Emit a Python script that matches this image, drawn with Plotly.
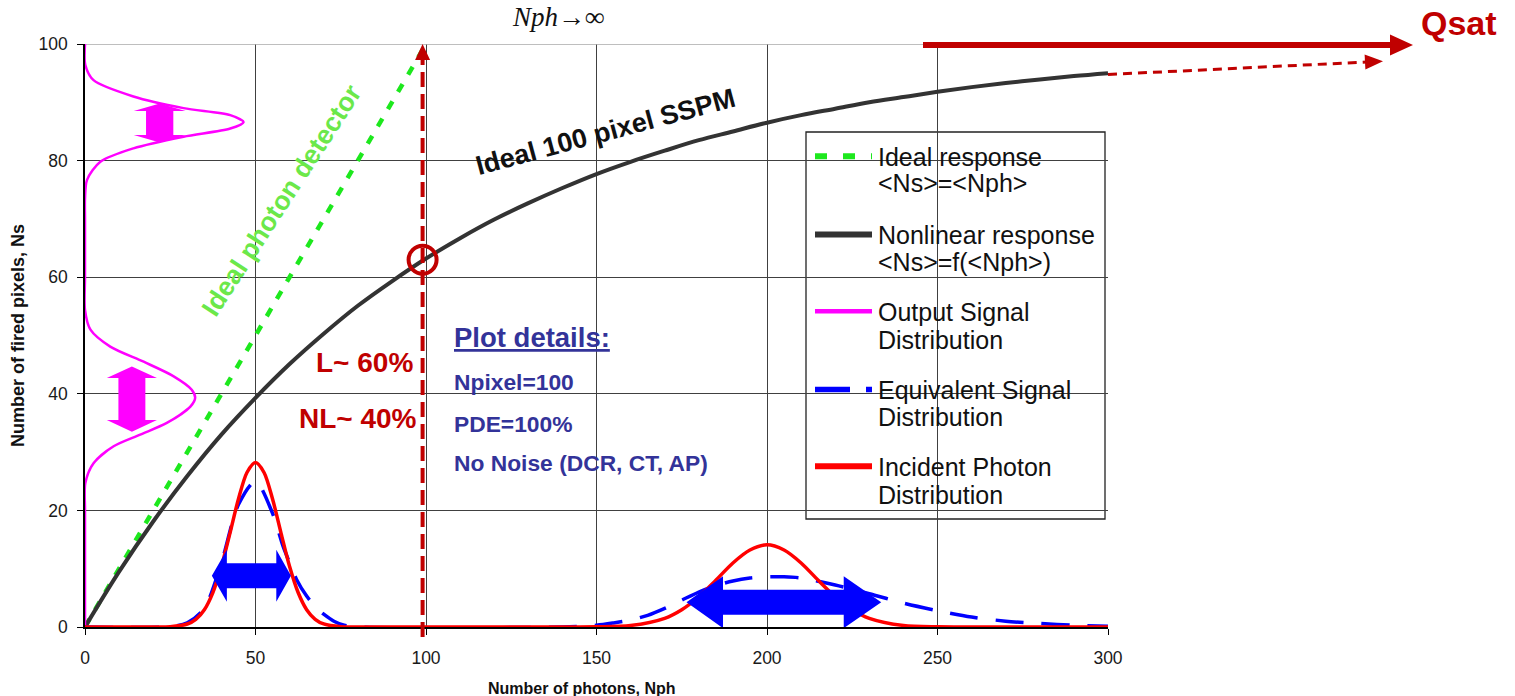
import plotly.graph_objects as go

# ---------------- data ----------------
nph_ticks = [0, 50, 100, 150, 200, 250, 300]
ns_ticks = [0, 20, 40, 60, 80, 100]

# ideal (linear) photon detector response
ideal_nph = [0, 100]
ideal_ns = [0, 100]

# nonlinear response of a 100-pixel SSPM
nonlinear_nph = [0, 10, 20, 30, 40, 50, 60, 70, 80, 90, 100, 110, 120, 130, 140, 150,
                 160, 170, 180, 190, 200, 210, 220, 230, 240, 250, 260, 270, 280, 290, 300]
nonlinear_ns = [0, 9.5, 18.1, 25.9, 33.0, 39.3, 45.1, 50.3, 55.1, 59.3, 63.2, 66.7, 69.9,
                72.7, 75.3, 77.7, 79.8, 81.7, 83.5, 85.0, 86.5, 87.8, 88.9, 90.0, 90.9,
                91.8, 92.6, 93.3, 93.9, 94.5, 95.0]

# incident photon distribution (two light pulses)
incident_nph = [0, 20, 25, 30, 32.5, 35, 37.5, 40, 42.5, 45, 47.5, 50, 52.5, 55, 57.5, 60,
                62.5, 65, 67.5, 70, 75, 80, 140, 150, 160, 170, 175, 180, 185, 190, 195,
                200, 205, 210, 215, 220, 225, 230, 240, 250, 260, 300]
incident_val = [0, 0, 0.05, 0.52, 1.32, 2.97, 5.91, 10.37, 16.07, 21.96, 26.5, 28.2, 26.5,
                21.96, 16.07, 10.37, 5.91, 2.97, 1.32, 0.52, 0.05, 0, 0, 0.03, 0.26, 1.49,
                2.96, 5.19, 8.03, 10.98, 13.2, 14.1, 13.2, 10.98, 8.03, 5.19, 2.96, 1.49,
                0.26, 0.03, 0, 0]

# equivalent signal distribution
equiv_nph = [0, 25, 30, 35, 40, 45, 50, 55, 58, 60, 62, 65, 68, 70, 73, 76, 80, 140, 150,
             155, 160, 165, 170, 175, 180, 185, 190, 195, 200, 205, 210, 220, 230, 240,
             250, 260, 270, 280, 290, 300]
equiv_val = [0, 0.05, 0.7, 3.2, 11, 21, 25, 19.5, 14, 11, 8.2, 5.3, 3.2, 2.2, 1.0, 0.3, 0,
             0, 0.3, 0.7, 1.2, 2.0, 3.2, 4.6, 6.0, 7.1, 7.9, 8.4, 8.6, 8.6, 8.4, 7.2, 5.7,
             4.1, 2.8, 1.7, 1.0, 0.6, 0.3, 0.15]

# output signal distribution, drawn along the Ns axis
output_ns = [0, 20, 24.7, 28.1, 31.0, 33.0, 35.0, 37.8, 39.3, 40.7, 43.0, 45.5, 48.1, 51.0,
             54.4, 60, 70, 73.5, 76.7, 79.8, 82.1, 84.1, 85.5, 86.6, 87.8, 89.0, 91.0,
             93.8, 96.4, 100]
output_val = [0, 0, 0.1, 2.5, 8.4, 16.2, 24.0, 30.9, 32.3, 31.3, 26.0, 17.2, 7.4, 1.6, 0,
              0, 0, 0, 0.6, 4.5, 14.2, 28.9, 42.6, 46.5, 42.6, 28.9, 14.2, 2.5, 0.1, 0]

# operating point marked on the nonlinear curve
operating_nph = [99]
operating_ns = [63]

# ---------------- styling ----------------
W, H = 1515, 696
ML, MR, MT, MB = 85, 407, 44, 69
PW = W - ML - MR
PH = H - MT - MB

DARKRED = "#c00000"
GREEN = "#1de81d"
MAGENTA = "#ff00ff"
BLUE = "#0000ff"
RED = "#ff0000"
CURVE = "#333333"
DETAIL = "#333399"
FONT = "Liberation Sans, Arial, sans-serif"


def fx(px):
    return (px - ML) / PW


def fy(py):
    return (H - MB - py) / PH


def h_double_arrow(xl, xr, hl, hr, yc, head, shaft):
    return (f"M{xl},{yc} L{hl},{yc + head} L{hl},{yc + shaft} L{hr},{yc + shaft} "
            f"L{hr},{yc + head} L{xr},{yc} L{hr},{yc - head} L{hr},{yc - shaft} "
            f"L{hl},{yc - shaft} L{hl},{yc - head} Z")


def v_double_arrow(yt, yb, ht, hb, xc, head, shaft):
    return (f"M{xc},{yt} L{xc + head},{ht} L{xc + shaft},{ht} L{xc + shaft},{hb} "
            f"L{xc + head},{hb} L{xc},{yb} L{xc - head},{hb} L{xc - shaft},{hb} "
            f"L{xc - shaft},{ht} L{xc - head},{ht} Z")


def label(x, y, text, size, color, xref="paper", yref="paper", xanchor="center",
          yanchor="middle", angle=0, family=FONT):
    return dict(xref=xref, yref=yref, x=x, y=y, text=text, showarrow=False,
                xanchor=xanchor, yanchor=yanchor, textangle=angle,
                font=dict(family=family, size=size, color=color))


fig = go.Figure()

fig.add_trace(go.Scatter(x=ideal_nph, y=ideal_ns, mode="lines",
                         line=dict(color=GREEN, width=4.5, dash="9px,11px")))
fig.add_trace(go.Scatter(x=nonlinear_nph, y=nonlinear_ns, mode="lines",
                         line=dict(color=CURVE, width=4, shape="spline")))
fig.add_trace(go.Scatter(x=output_val, y=output_ns, mode="lines",
                         line=dict(color=MAGENTA, width=2.5, shape="spline", smoothing=0.8)))
fig.add_trace(go.Scatter(x=equiv_nph, y=equiv_val, mode="lines",
                         line=dict(color=BLUE, width=3.5, dash="28px,18px",
                                   shape="spline", smoothing=0.8)))
fig.add_trace(go.Scatter(x=incident_nph, y=incident_val, mode="lines",
                         line=dict(color=RED, width=3.5, shape="spline", smoothing=0.8)))
fig.add_trace(go.Scatter(x=operating_nph, y=operating_ns, mode="markers",
                         marker=dict(symbol="circle-open", size=28, color=DARKRED,
                                     line=dict(color=DARKRED, width=4)),
                         cliponaxis=False))

shapes = []

# light top frame line
shapes.append(dict(type="line", xref="x", yref="y", x0=0, x1=300, y0=100, y1=100,
                   line=dict(color="#a8a8a8", width=1.3), layer="between"))

# width arrows on the distributions
shapes.append(dict(type="path", xref="x", yref="y", fillcolor=BLUE, line=dict(width=0),
                   path=h_double_arrow(37.2, 60.4, 41.6, 56.1, 8.8, 4.45, 2.15)))
shapes.append(dict(type="path", xref="x", yref="y", fillcolor=BLUE, line=dict(width=0),
                   path=h_double_arrow(176.4, 233.5, 187.1, 222.5, 4.25, 4.45, 2.15)))
shapes.append(dict(type="path", xref="x", yref="y", fillcolor=MAGENTA, line=dict(width=0),
                   path=v_double_arrow(89.8, 83.1, 88.5, 84.4, 21.9, 7.6, 4.0)))
shapes.append(dict(type="path", xref="x", yref="y", fillcolor=MAGENTA, line=dict(width=0),
                   path=v_double_arrow(44.7, 33.5, 42.7, 35.5, 13.75, 7.35, 3.95)))

# vertical marker at Nph = 100 with arrow head
shapes.append(dict(type="line", xref="x", yref="paper", x0=99, x1=99, y0=fy(637), y1=fy(58),
                   line=dict(color=DARKRED, width=4, dash="15px,7px")))
shapes.append(dict(type="path", xref="x", yref="paper", fillcolor=DARKRED, line=dict(width=0),
                   path=f"M96.8,{fy(60)} L99,{fy(44)} L101.2,{fy(60)} Z"))

# saturation arrows
shapes.append(dict(type="line", xref="paper", yref="paper", x0=fx(923), x1=fx(1394),
                   y0=fy(45), y1=fy(45), line=dict(color=DARKRED, width=6)))
shapes.append(dict(type="path", xref="paper", yref="paper", fillcolor=DARKRED,
                   line=dict(width=0),
                   path=f"M{fx(1390)},{fy(34.5)} L{fx(1413)},{fy(45)} L{fx(1390)},{fy(55.5)} Z"))
shapes.append(dict(type="line", xref="paper", yref="paper", x0=fx(1108), x1=fx(1367),
                   y0=fy(74.5), y1=fy(62), line=dict(color=DARKRED, width=3, dash="9px,6px")))
shapes.append(dict(type="path", xref="paper", yref="paper", fillcolor=DARKRED,
                   line=dict(width=0),
                   path=f"M{fx(1365.4)},{fy(69.6)} L{fx(1383)},{fy(61.2)} L{fx(1364.6)},{fy(54.6)} Z"))

# legend box
shapes.append(dict(type="rect", xref="paper", yref="paper", x0=fx(806), x1=fx(1105),
                   y0=fy(519), y1=fy(132), fillcolor="white",
                   line=dict(color="#222222", width=1.3), layer="between"))

legend_entries = [
    ("Ideal response", "&lt;Ns&gt;=&lt;Nph&gt;", GREEN, "12px,16px", 6, 156.7, 183.3),
    ("Nonlinear response", "&lt;Ns&gt;=f(&lt;Nph&gt;)", CURVE, "solid", 6, 235, 261.7),
    ("Output Signal", "Distribution", MAGENTA, "solid", 4.5, 311.7, 340),
    ("Equivalent Signal", "Distribution", BLUE, "35px,16px,6px,16px", 5.5, 390, 416.7),
    ("Incident Photon", "Distribution", RED, "solid", 6, 466.7, 495),
]

annotations = []
for line1, line2, color, dash, width, y1, y2 in legend_entries:
    shapes.append(dict(type="line", xref="paper", yref="paper", x0=fx(815), x1=fx(872),
                       y0=fy(y1 - 0.5), y1=fy(y1 - 0.5),
                       line=dict(color=color, width=width, dash=dash)))
    for txt, yy in ((line1, y1), (line2, y2)):
        annotations.append(label(fx(876), fy(yy), txt, 25, "#111111", xanchor="left"))

# curve labels
annotations.append(label(57.5, 73.1, "<b>Ideal photon detector</b>", 26.5, "#6be84a",
                         xref="x", yref="y", angle=-57))
annotations.append(label(152.5, 84.9, "<b>Ideal 100 pixel SSPM</b>", 27, "#111111",
                         xref="x", yref="y", angle=-15))
annotations.append(label(96.9, 45.3, "<b>L~ 60%</b>", 28, DARKRED,
                         xref="x", yref="y", xanchor="right"))
annotations.append(label(97.9, 35.8, "<b>NL~ 40%</b>", 28, DARKRED,
                         xref="x", yref="y", xanchor="right"))

# plot details block
annotations.append(label(107.6, 49.7, "<b><u>Plot details:</u></b>", 27.5, DETAIL,
                         xref="x", yref="y", xanchor="left"))
for txt, yy in (("Npixel=100", 42.1), ("PDE=100%", 34.8), ("No Noise (DCR, CT, AP)", 28.1)):
    annotations.append(label(107.6, yy, f"<b>{txt}</b>", 22.8, DETAIL,
                             xref="x", yref="y", xanchor="left"))

# saturation labels
annotations.append(label(fx(1459), fy(23), "<b>Qsat</b>", 34, DARKRED))
annotations.append(label(fx(558), fy(17), "<i>Nph→∞</i>", 27, "#111111",
                         family="Liberation Serif, serif"))

# axis titles
annotations.append(label(fx(582), fy(688), "<b>Number of photons, Nph</b>", 16, "#111111"))
annotations.append(label(fx(18), fy(336), "<b>Number of fired pixels, Ns</b>", 18, "#111111",
                         angle=-90))

axis_common = dict(showgrid=True, gridcolor="#404040", gridwidth=1.3, showline=True,
                   linecolor="black", linewidth=1.5, ticks="outside", ticklen=6,
                   tickcolor="black", tickwidth=1.3, zeroline=False, layer="below traces",
                   tickfont=dict(family=FONT, size=17.5, color="#1a1a1a"))

fig.update_layout(
    width=W, height=H, autosize=False,
    margin=dict(l=ML, r=MR, t=MT, b=MB),
    paper_bgcolor="white", plot_bgcolor="white",
    showlegend=False,
    xaxis=dict(range=[0, 300], tickvals=nph_ticks, ticklabelstandoff=8, **axis_common),
    yaxis=dict(range=[0, 100], tickvals=ns_ticks, ticklabelstandoff=6, **axis_common),
    shapes=shapes,
    annotations=annotations,
)

fig.write_html("out.html")
